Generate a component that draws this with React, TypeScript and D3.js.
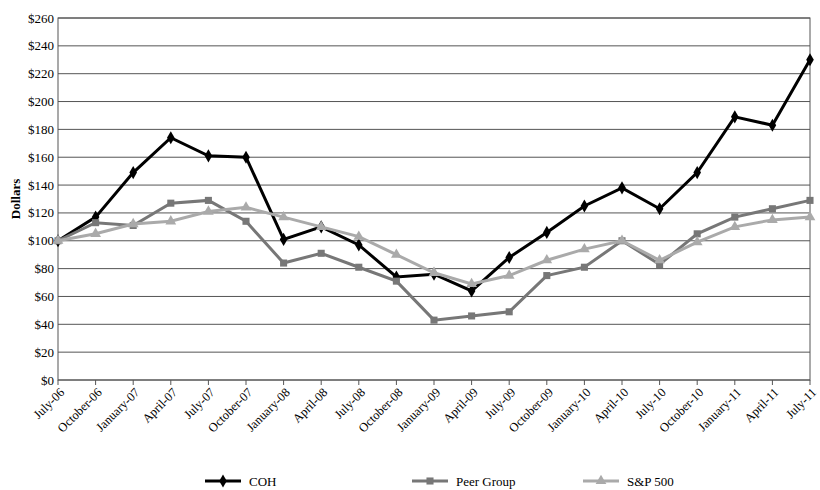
import React from "react";
import * as d3 from "d3";

const dates = ["July-06","October-06","January-07","April-07","July-07","October-07","January-08","April-08","July-08","October-08","January-09","April-09","July-09","October-09","January-10","April-10","July-10","October-10","January-11","April-11","July-11"];
const coh = [100,117,149,174,161,160,101,110,97,74,76,64,88,106,125,138,123,149,189,183,230];
const peer = [100,113,111,127,129,114,84,91,81,71,43,46,49,75,81,100,83,105,117,123,129];
const sp = [100,105,112,114,121,124,117,110,103,90,77,69,75,86,94,100,86,99,110,115,117];
const yTicks = d3.range(0, 261, 20);

const series = [
  { name: "COH", values: coh, color: "#000", shape: d3.symbolDiamond, lx: 205 },
  { name: "Peer Group", values: peer, color: "#777", shape: d3.symbolSquare, lx: 412 },
  { name: "S&P 500", values: sp, color: "#aaa", shape: d3.symbolTriangle, lx: 583 },
];

export default function App() {
  const left = 58, right = 810, top = 18, bottom = 380;
  const x = d3.scalePoint().domain(dates).range([left, right]);
  const y = d3.scaleLinear().domain([0, 260]).range([bottom, top]);
  const line = d3.line<number>().x((_, i) => x(dates[i])!).y((d) => y(d));
  const font = "'Liberation Serif', 'Times New Roman', serif";
  return (
    <svg width={820} height={490} style={{ position: "absolute", left: 0, top: 0, fontFamily: font }}>
      <rect width={820} height={490} fill="#fff" />
      {yTicks.map((t) => (
        <g key={t}>
          <line x1={left} x2={right} y1={y(t)} y2={y(t)} stroke="#555" strokeWidth={1} />
          <text x={left - 4} y={y(t)} dy="0.35em" textAnchor="end" fontSize={13}>${t}</text>
        </g>
      ))}
      <rect x={left} y={top} width={right - left} height={bottom - top} fill="none" stroke="#555" />
      {dates.map((d) => (
        <g key={d}>
          <line x1={x(d)} x2={x(d)} y1={bottom} y2={bottom + 5} stroke="#555" />
          <text transform={`translate(${x(d)! + 4},${bottom + 10}) rotate(-45)`} textAnchor="end" dy="0.35em" fontSize={12.5}>{d}</text>
        </g>
      ))}
      <text transform="translate(20,199) rotate(-90)" textAnchor="middle" fontSize={13} fontWeight="bold">Dollars</text>
      {series.map((s) => (
        <g key={s.name}>
          <path d={line(s.values)!} fill="none" stroke={s.color} strokeWidth={3} />
          {s.values.map((v, i) => (
            <path key={i} d={d3.symbol(s.shape, 50)()!} transform={`translate(${x(dates[i])},${y(v)})`} fill={s.color} />
          ))}
          <line x1={s.lx} x2={s.lx + 36} y1={481} y2={481} stroke={s.color} strokeWidth={3} />
          <path d={d3.symbol(s.shape, 50)()!} transform={`translate(${s.lx + 18},481)`} fill={s.color} />
          <text x={s.lx + 44} y={481} dy="0.35em" fontSize={13}>{s.name}</text>
        </g>
      ))}
    </svg>
  );
}
